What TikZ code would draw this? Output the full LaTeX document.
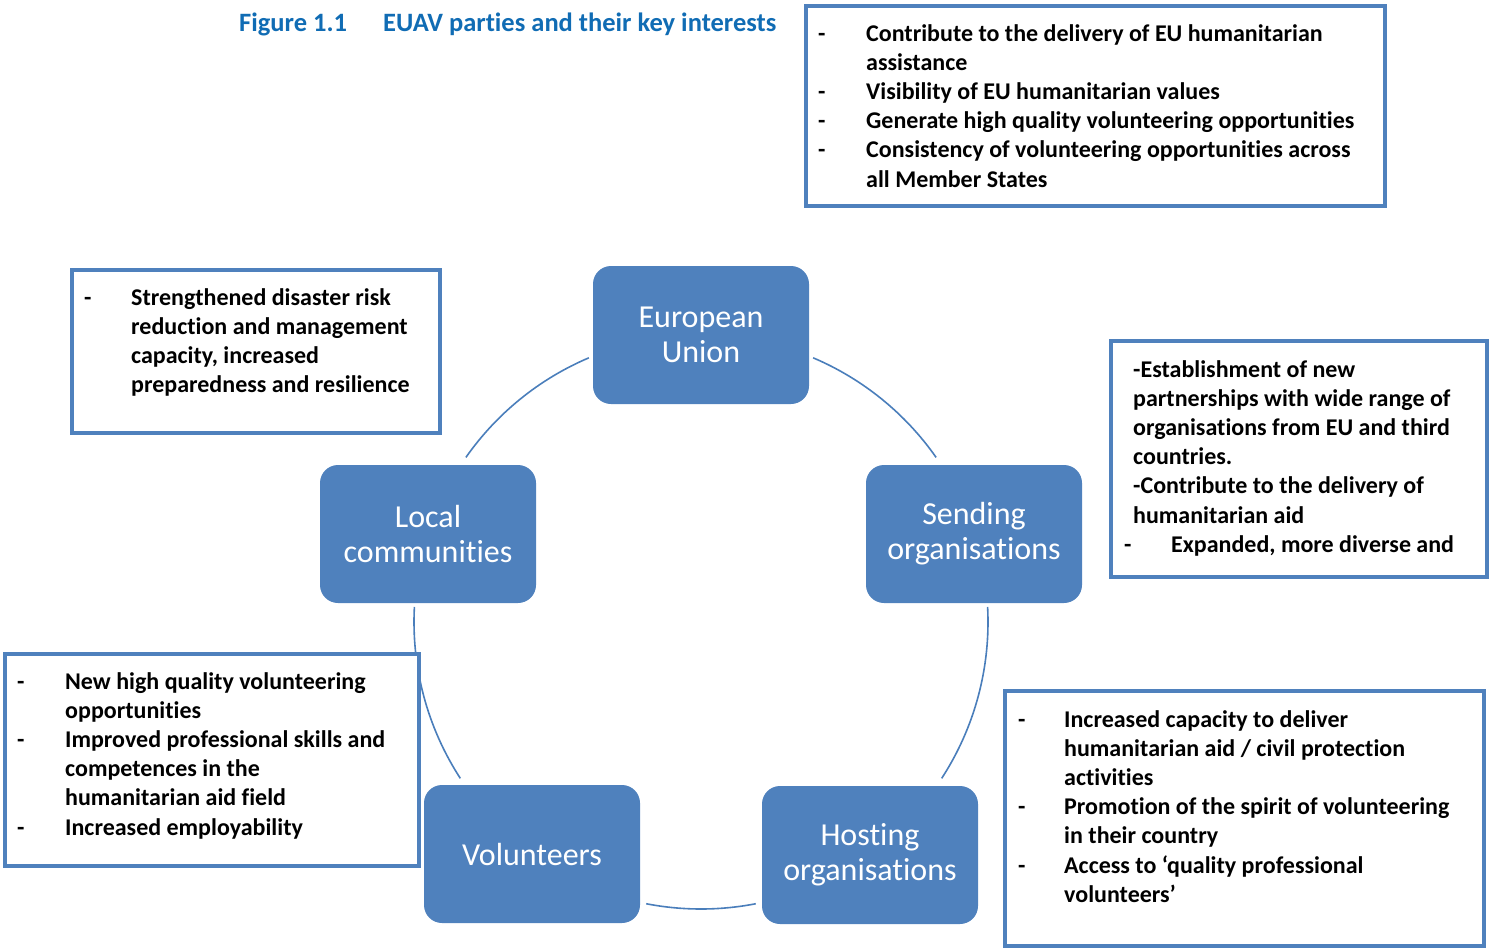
\documentclass[tikz,border=0pt]{standalone}
\usepackage{fontspec}
\setmainfont[RawFeature={-liga;-clig;-dlig;-calt}]{Carlito}
\usepackage{array}
\definecolor{nodeblue}{RGB}{79,129,189}
\definecolor{ringblue}{RGB}{74,126,187}
\definecolor{titleblue}{RGB}{16,108,180}
\newcommand{\itemtab}[2]{\begin{tabular}[t]{@{}p{#1}@{}l@{}}#2\end{tabular}}
\begin{document}
\begin{tikzpicture}[x=1pt,y=-1pt,
  party/.style={rounded corners=18pt, fill=nodeblue, draw=none, minimum width=216pt,
    minimum height=138pt, text=white, align=center, inner sep=0pt,
    font=\fontsize{32}{35}\selectfont},
  infobox/.style={draw=nodeblue, line width=4pt, fill=white, inner sep=0pt, outer sep=0pt,
    anchor=north west},
  infotext/.style={anchor=base west, inner sep=0pt, font=\fontsize{24}{29.2}\selectfont\bfseries},
  titletext/.style={anchor=base west, inner sep=0pt, text=titleblue, font=\fontsize{26.5}{30}\selectfont\bfseries},
  ring/.style={draw=ringblue, line width=1.6pt}]
\useasboundingbox (0,0) rectangle (1489,948);
% title
\node[titletext] (fig) at (239,31) {Figure 1.1};
\node[titletext] (ttl) at (383,31) {EUAV parties and their key interests};
% ring
\coordinate (ctr) at (701,622);
\draw[ring] ([shift={(-67:287)}]ctr) arc[start angle=-67,end angle=-35,radius=287];
\draw[ring] ([shift={(-3:287)}]ctr) arc[start angle=-3,end angle=33,radius=287];
\draw[ring] ([shift={(79:287)}]ctr) arc[start angle=79,end angle=101,radius=287];
\draw[ring] ([shift={(147:287)}]ctr) arc[start angle=147,end angle=183,radius=287];
\draw[ring] ([shift={(215:287)}]ctr) arc[start angle=215,end angle=247,radius=287];
% parties
\node[party] (eu) at (701,335) {European\\Union};
\node[party] (local) at (428,534) {Local\\communities};
\node[party] (send) at (974,534) {Sending\\organisations};
\node[party] (vol) at (532,854) {Volunteers};
\node[party] (host) at (870,855) {Hosting\\organisations};
% info boxes
\node[infobox, minimum width=579pt, minimum height=200pt] (boxeu) at (806,6) {};
\node[infotext] (txteu) at (818,41) {\itemtab{48pt}{%
- & Contribute to the delivery of EU humanitarian\\
 & assistance\\
- & Visibility of EU humanitarian values\\
- & Generate high quality volunteering opportunities\\
- & Consistency of volunteering opportunities across\\
 & all Member States}};
\node[infobox, minimum width=368pt, minimum height=163pt] (boxloc) at (72,270) {};
\node[infotext] (txtloc) at (84,305) {\itemtab{47pt}{%
- & Strengthened disaster risk\\
 & reduction and management\\
 & capacity, increased\\
 & preparedness and resilience}};
\node[infobox, minimum width=376pt, minimum height=236pt] (boxsend) at (1111,341) {};
\node[infotext] (txtsend) at (1124,377) {\itemtab{47pt}{%
\multicolumn{2}{@{\hspace{9pt}}l@{}}{-Establishment of new}\\
\multicolumn{2}{@{\hspace{9pt}}l@{}}{partnerships with wide range of}\\
\multicolumn{2}{@{\hspace{9pt}}l@{}}{organisations from EU and third}\\
\multicolumn{2}{@{\hspace{9pt}}l@{}}{countries.}\\
\multicolumn{2}{@{\hspace{9pt}}l@{}}{-Contribute to the delivery of}\\
\multicolumn{2}{@{\hspace{9pt}}l@{}}{humanitarian aid}\\
- & Expanded, more diverse and}};
\node[infobox, minimum width=414pt, minimum height=212pt] (boxvol) at (5,654) {};
\node[infotext] (txtvol) at (17,689) {\itemtab{48pt}{%
- & New high quality volunteering\\
 & opportunities\\
- & Improved professional skills and\\
 & competences in the\\
 & humanitarian aid field\\
- & Increased employability}};
\node[infobox, minimum width=479pt, minimum height=255pt] (boxhost) at (1005,691) {};
\node[infotext] (txthost) at (1018,727) {\itemtab{46pt}{%
- & Increased capacity to deliver\\
 & humanitarian aid / civil protection\\
 & activities\\
- & Promotion of the spirit of volunteering\\
 & in their country\\
- & Access to `quality professional\\
 & volunteers'}};
\end{tikzpicture}
\end{document}
